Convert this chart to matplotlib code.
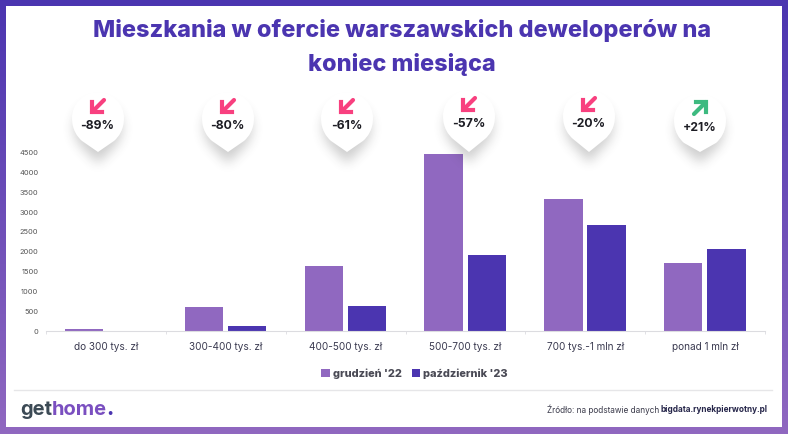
import numpy as np
import matplotlib
matplotlib.use("Agg")
import matplotlib.pyplot as plt
from matplotlib.patches import PathPatch, Rectangle
from matplotlib.path import Path
from matplotlib.colors import LinearSegmentedColormap

categories = ["do 300 tys. zł", "300-400 tys. zł", "400-500 tys. zł",
              "500-700 tys. zł", "700 tys.-1 mln zł", "ponad 1 mln zł"]
dec_22 = [60, 610, 1640, 4460, 3340, 1710]
oct_23 = [7, 125, 640, 1910, 2670, 2070]
changes = ["-89%", "-80%", "-61%", "-57%", "-20%", "+21%"]
yticks = [0, 500, 1000, 1500, 2000, 2500, 3000, 3500, 4000, 4500]

W, H = 788, 434
LIGHT = "#9068c0"
DARK = "#4b35b0"
PINK = "#f8407f"
GREEN = "#3dba80"

fig = plt.figure(figsize=(W / 100, H / 100), dpi=100)
plt.rcParams["font.family"] = ["Inter", "DejaVu Sans"]


def pin_path(cx, cy, r, tip):
    k = 0.5523 * r
    verts = [(cx - r, cy), (cx - r, cy - k), (cx - k, cy - r), (cx, cy - r),
             (cx + k, cy - r), (cx + r, cy - k), (cx + r, cy),
             (cx + r, cy + r * 0.45), (cx + r * 0.8, cy + r * 0.72), (cx + r * 0.62, cy + r * 0.88),
             (cx, tip), (cx - r * 0.62, cy + r * 0.88),
             (cx - r * 0.8, cy + r * 0.72), (cx - r, cy + r * 0.45), (cx - r, cy)]
    codes = [Path.MOVETO] + [Path.CURVE4] * 9 + [Path.LINETO, Path.LINETO] + [Path.CURVE4] * 3
    return Path(verts, codes)


def blur(img, n):
    # three box passes are close enough to a gaussian
    kernel = np.ones(2 * n + 1) / (2 * n + 1)
    for _ in range(3):
        img = np.apply_along_axis(np.convolve, 0, img, kernel, mode="same")
        img = np.apply_along_axis(np.convolve, 1, img, kernel, mode="same")
    return img


# background frame + gradient, pixel coordinates
bg = fig.add_axes([0, 0, 1, 1])
bg.set_xlim(0, W)
bg.set_ylim(H, 0)
bg.axis("off")
cmap = LinearSegmentedColormap.from_list("frame", [DARK, LIGHT])
bg.imshow(np.linspace(0, 1, 256).reshape(-1, 1), cmap=cmap, extent=(0, W, H, 0), aspect="auto")
bg.add_patch(Rectangle((6, 6), 776, 421, color="white", lw=0))
bg.plot([14, 772], [390, 390], color="#e6e6e8", lw=1)

bg.text(402, 31, "Mieszkania w ofercie warszawskich deweloperów na", ha="center", va="center",
        fontsize=16.9, fontweight="heavy", color=DARK)
bg.text(402, 64, "koniec miesiąca", ha="center", va="center",
        fontsize=16.9, fontweight="heavy", color=DARK)

# chart
ax = fig.add_axes([46 / W, 1 - 331 / H, 719 / W, 178.2 / H])
ax.patch.set_alpha(0)
x = np.arange(len(categories))
ax.bar(x - 0.1825, dec_22, 0.32, color=LIGHT, label="grudzień '22")
ax.bar(x + 0.1775, oct_23, 0.32, color=DARK, label="październik '23")
ax.set_xlim(-0.5, 5.5)
ax.set_ylim(0, 4500)
ax.set_yticks(yticks)
ax.set_xticks(x, categories)
ax.set_xticks(np.arange(-0.5, 6), minor=True)
for s in ["top", "left", "right"]:
    ax.spines[s].set_visible(False)
ax.spines["bottom"].set_color("#dcdce0")
ax.tick_params(axis="y", length=0, labelsize=5.4, labelcolor="#555555", pad=5.5)
ax.tick_params(axis="x", which="major", length=0, labelsize=7.2, labelcolor="#3a3a50", pad=8)
ax.tick_params(axis="x", which="minor", length=2.5, color="#dcdce0")

leg = ax.legend(loc="center", bbox_to_anchor=(368.5 / 719, -43 / 178.2), ncol=2, frameon=False,
                handlelength=0.75, handleheight=0.75, columnspacing=0.9, handletextpad=0.3,
                prop={"weight": "heavy", "size": 7.9})
for t in leg.get_texts():
    t.set_color("#4a4a55")

# pins over the chart
top = fig.add_axes([0, 0, 1, 1])
top.set_xlim(0, W)
top.set_ylim(H, 0)
top.axis("off")
top.patch.set_alpha(0)
pin_x = [98, 228, 347, 469, 589, 700]
pin_y = [118, 118, 118, 116, 116, 120]

# shadow layer: blurred copy of the pins, shifted down
yy, xx = np.mgrid[0:H, 0:W]
pts = np.column_stack([xx.ravel() + 0.5, yy.ravel() + 0.5])
mask = np.zeros((H, W))
for cx, cy in zip(pin_x, pin_y):
    mask += pin_path(cx, cy + 9, 24, 163).contains_points(pts).reshape(H, W)
shadow = np.zeros((H, W, 4))
shadow[..., :3] = 0.2
shadow[..., 3] = blur(mask, 5) * 0.24
top.imshow(shadow, extent=(0, W, H, 0), aspect="auto", zorder=1)

for label, cx, cy in zip(changes, pin_x, pin_y):
    top.add_patch(PathPatch(pin_path(cx, cy, 26, 152), fc="white", ec="none", zorder=2))
    up = label.startswith("+")
    color = GREEN if up else PINK
    ay = cy - 12
    if up:
        top.plot([cx - 6, cx + 6], [ay + 6, ay - 6], color=color, lw=3, solid_capstyle="round", zorder=3)
        top.plot([cx - 4, cx + 6, cx + 6], [ay - 6, ay - 6, ay + 4], color=color, lw=3, solid_joinstyle="miter", zorder=3)
    else:
        top.plot([cx + 6, cx - 6], [ay - 6, ay + 6], color=color, lw=3, solid_capstyle="round", zorder=3)
        top.plot([cx - 6, cx - 6, cx + 4], [ay - 4, ay + 6, ay + 6], color=color, lw=3, solid_joinstyle="miter", zorder=3)
    top.text(cx - 0.5, cy + 8, label, ha="center", va="center", fontsize=8.8, fontweight="bold", color="#1d1d24", zorder=3)

# footer
logo_y = 410
t1 = top.text(20, logo_y, "get", ha="left", va="center", fontsize=14.5, fontweight="bold", color="#3c4a55")
fig.canvas.draw()
r = fig.canvas.get_renderer()
x1 = t1.get_window_extent(r).x1
t2 = top.text(x1, logo_y, "home", ha="left", va="center", fontsize=14.5, fontweight="bold", color="#7a4fc0")
x2 = t2.get_window_extent(r).x1
top.text(x2 - 1, logo_y, ".", ha="left", va="center", fontsize=14.5, fontweight="heavy", color=DARK)

top.text(659, 409.5, "Źródło: na podstawie danych", ha="right", va="center", fontsize=5.9, color="#3a3a4a")
top.text(768, 409.5, "bigdata.rynekpierwotny.pl", ha="right", va="center", fontsize=5.9, fontweight="bold", color="#26264a")

fig.savefig("out.png", dpi=100)
